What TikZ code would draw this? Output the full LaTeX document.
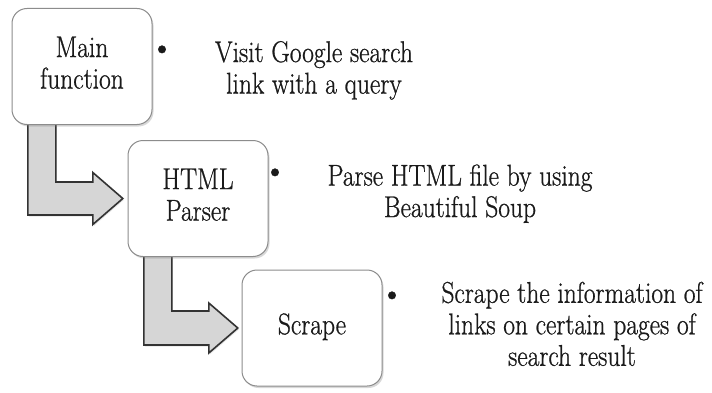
\documentclass[tikz,border=0pt]{standalone}
\usepackage{fontspec}
\usepackage{graphicx}
\setmainfont{Latin Modern Roman}[FakeBold=0.8]
\usetikzlibrary{calc,shadows}
\definecolor{boxline}{HTML}{8C8C8C}
\definecolor{arrowfill}{HTML}{D6D6D6}
\definecolor{arrowline}{HTML}{333333}
\definecolor{txt}{HTML}{1A1A1A}
\newcommand{\nrw}[1]{\scalebox{0.85}[1]{\begin{tabular}{@{}c@{}}#1\end{tabular}}}
\begin{document}
\begin{tikzpicture}[x=1pt,y=1pt,
  stepbox/.style={draw=boxline, line width=1pt, fill=white, rounded corners=15pt,
    minimum width=140pt, minimum height=116pt, inner sep=0pt, align=center,
    text=txt, font=\fontsize{30}{31.5}\selectfont,
    drop shadow={opacity=0.3, shadow xshift=1.5pt, shadow yshift=-2pt}},
  desc/.style={align=center, inner sep=0pt, text=txt, font=\fontsize{30}{31.5}\selectfont},
  bul/.style={inner sep=0pt, text=txt, font=\fontsize{34}{34}\selectfont},
  blockarrow/.style={draw=arrowline, fill=arrowfill, line width=1.6pt, line join=miter,
    drop shadow={opacity=0.2, shadow xshift=1pt, shadow yshift=-1.5pt}}]
\useasboundingbox (0,0) rectangle (712,392);
\fill[white] (0,0) rectangle (712,392);
\path (82,325.5) coordinate (cm) (198,193.5) coordinate (cp) (312,64) coordinate (cs);
% invisible placeholders to compute arrow geometry
\node[minimum width=140pt, minimum height=116pt, inner sep=0pt] (m0) at (cm) {};
\node[minimum width=140pt, minimum height=116pt, inner sep=0pt] (p0) at (cp) {};
\node[minimum width=140pt, minimum height=116pt, inner sep=0pt] (s0) at (cs) {};
% arrows
\draw[blockarrow] let \p1=(m0.south west), \p2=($(p0.west)+(-5pt,0)$) in
  (\x1+16pt,\y1+5pt) -- (\x1+16pt,\y2-16.5pt) -- (\x2-30pt,\y2-16.5pt) -- (\x2-30pt,\y2-26pt)
  -- (\x2,\y2) -- (\x2-30pt,\y2+26pt) -- (\x2-30pt,\y2+16.5pt) -- (\x1+44pt,\y2+16.5pt)
  -- (\x1+44pt,\y1+5pt) -- cycle;
\draw[blockarrow] let \p1=(p0.south west), \p2=($(s0.west)+(-4pt,0)$) in
  (\x1+16pt,\y1+5pt) -- (\x1+16pt,\y2-17pt) -- (\x2-29pt,\y2-17pt) -- (\x2-29pt,\y2-25pt)
  -- (\x2,\y2) -- (\x2-29pt,\y2+25pt) -- (\x2-29pt,\y2+17pt) -- (\x1+44pt,\y2+17pt)
  -- (\x1+44pt,\y1+5pt) -- cycle;
% boxes
\node[stepbox] (m) at (cm) {\nrw{Main\\function}};
\node[stepbox] (p) at (cp) {\nrw{HTML\\Parser}};
\node[stepbox] (s) at (cs) {\nrw{Scrape}};
% bullets and descriptions
\node[bul] (b1) at (162,340) {\textbullet};
\node[bul] (b2) at (275,217) {\textbullet};
\node[bul] (b3) at (392,94) {\textbullet};
\node[desc] (d1) at (314,320.5) {\nrw{Visit Google search\\link with a query}};
\node[desc] (d2) at (460,197) {\nrw{Parse HTML file by using\\Beautiful Soup}};
\node[desc] (d3) at (572,64) {\nrw{Scrape the information of\\links on certain pages of\\search result}};
\end{tikzpicture}
\end{document}
